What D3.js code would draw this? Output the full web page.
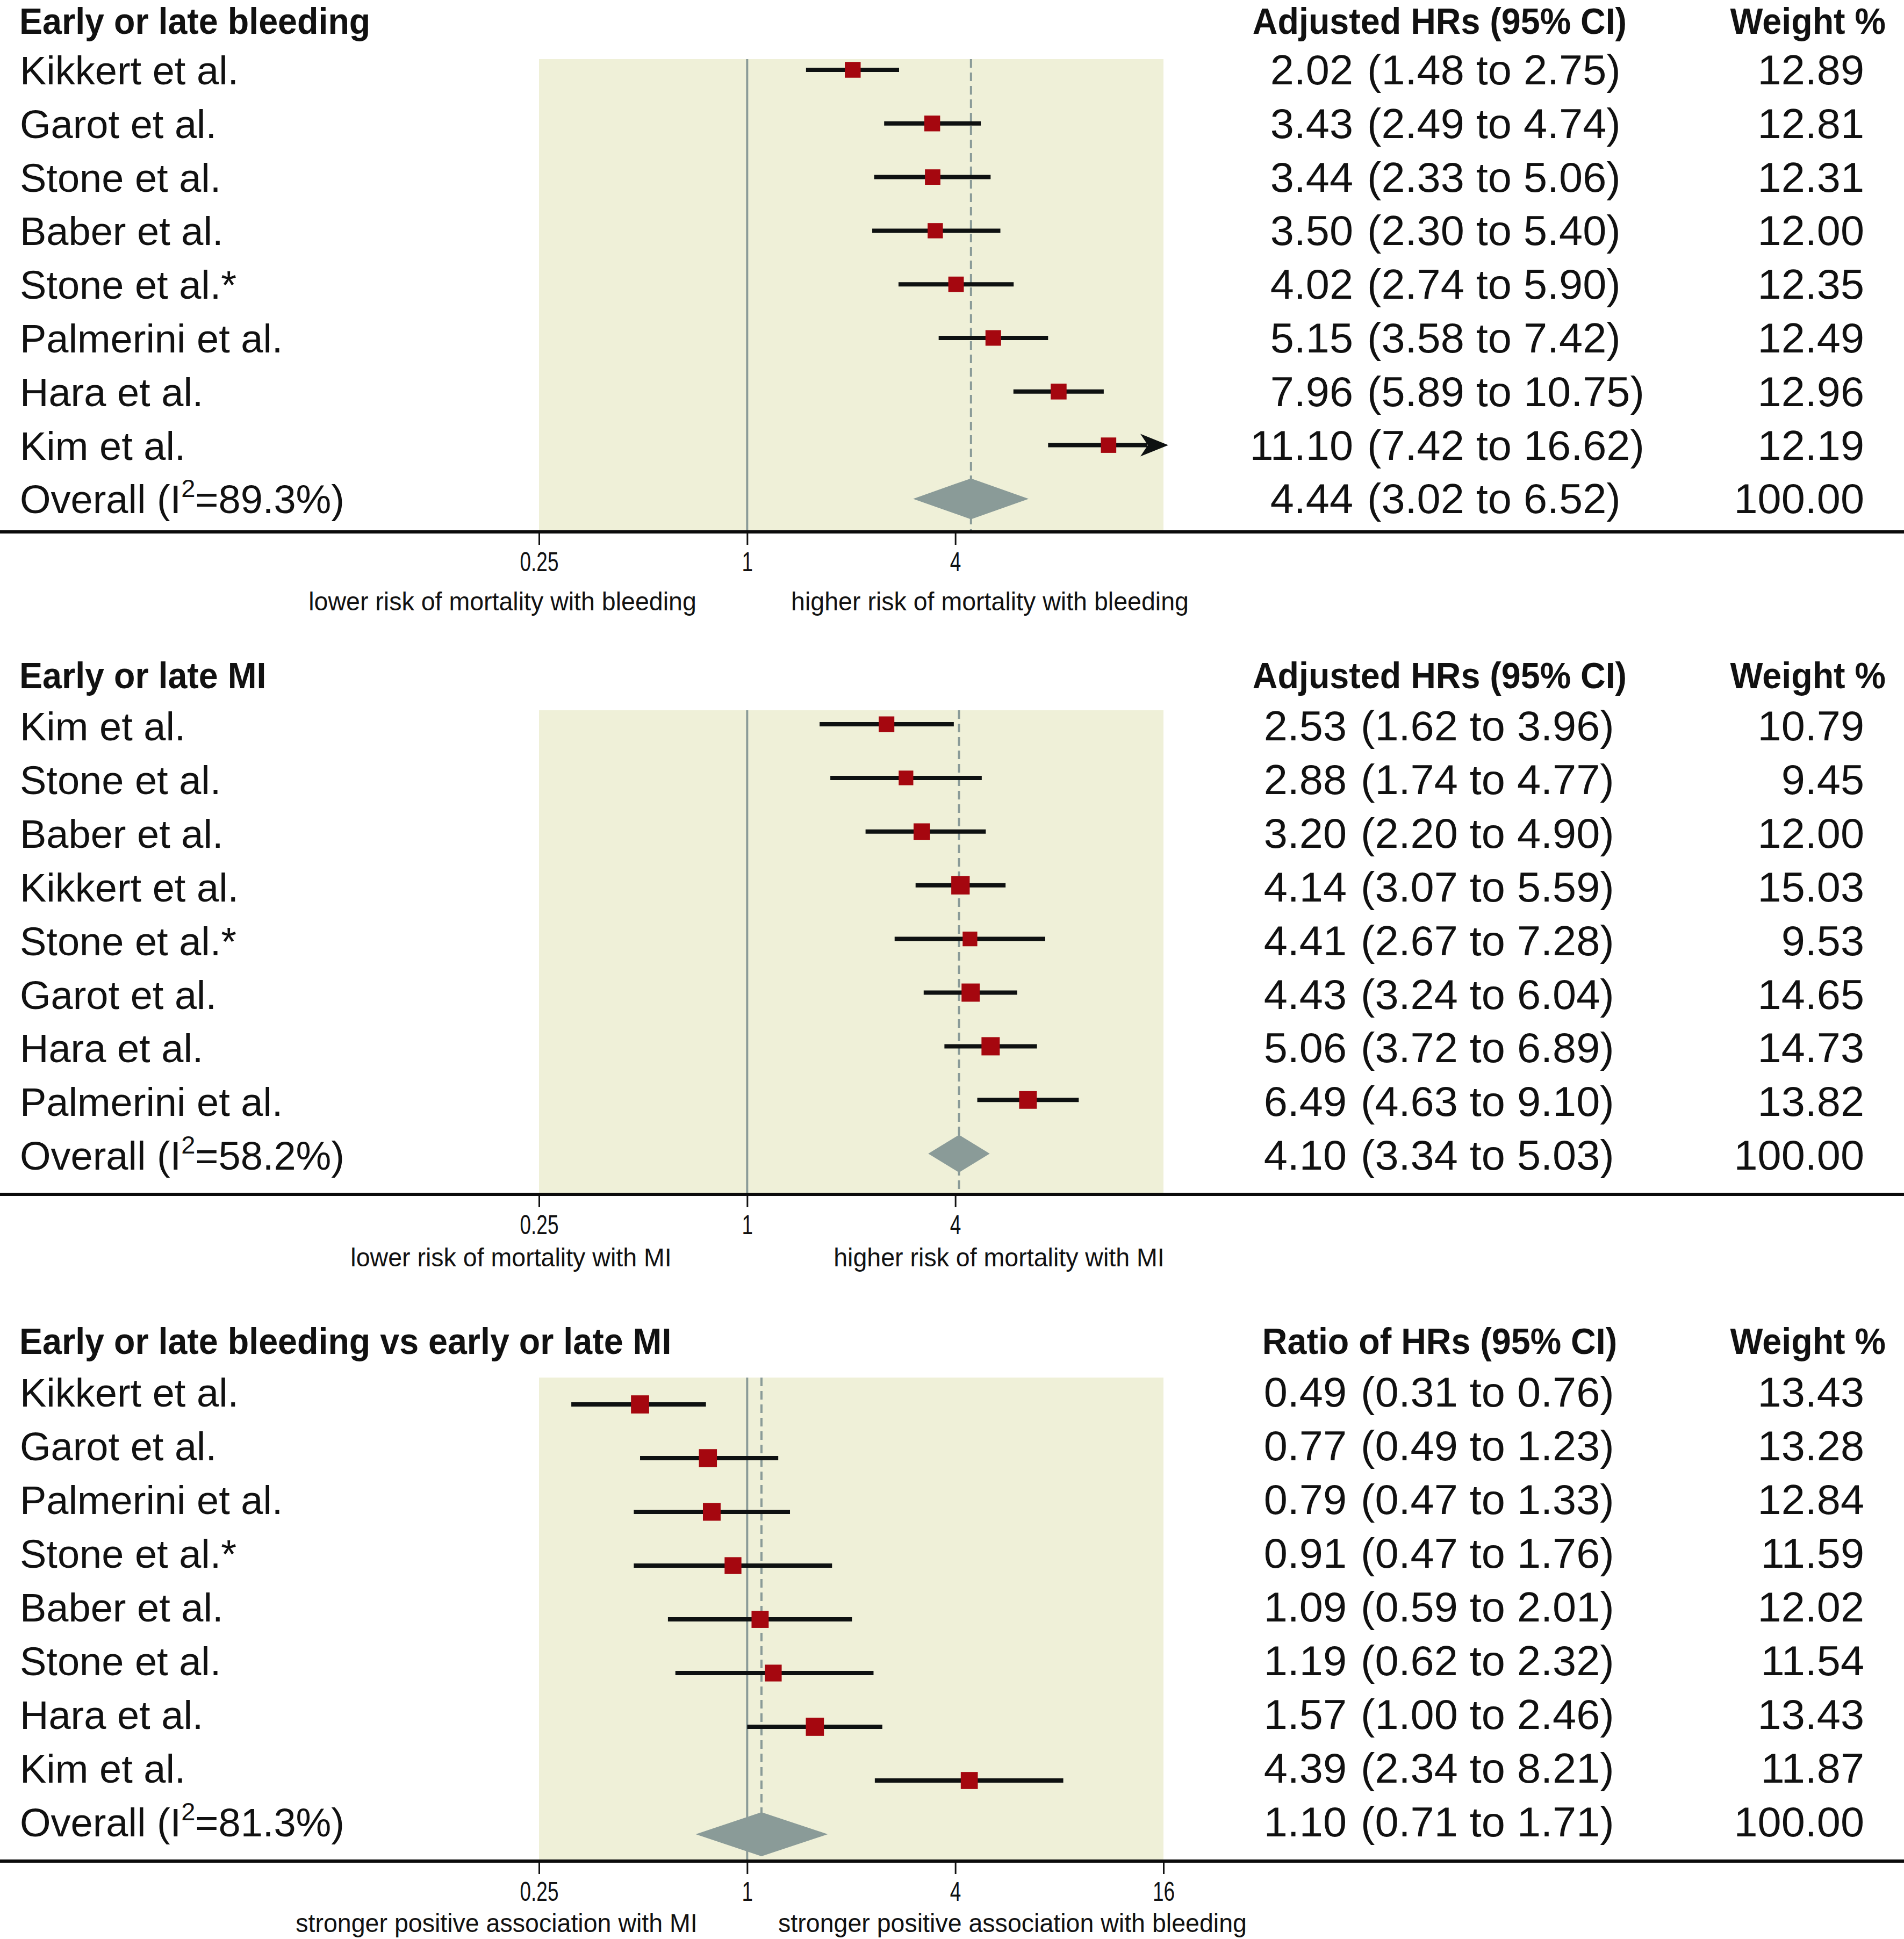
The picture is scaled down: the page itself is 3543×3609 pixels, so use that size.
<!DOCTYPE html>
<html>
<head>
<meta charset="utf-8">
<script src="https://cdn.jsdelivr.net/npm/d3@7"></script>
<style>
  html, body { margin: 0; padding: 0; background: #ffffff; }
  svg { display: block; }
  text { font-family: "Liberation Sans", Arial, Helvetica, sans-serif; fill: #111111; }
</style>
</head>
<body>
<script>
// ---------------- DATA ----------------
const titles = ["Early or late bleeding", "Early or late MI", "Early or late bleeding vs early or late MI"];
const estHeaders = ["Adjusted HRs (95% CI)", "Adjusted HRs (95% CI)", "Ratio of HRs (95% CI)"];
const weightHeader = "Weight %";

// Panel 1: Early or late bleeding
const studies1 = ["Kikkert et al.", "Garot et al.", "Stone et al.", "Baber et al.", "Stone et al.*", "Palmerini et al.", "Hara et al.", "Kim et al."];
const est1 = [2.02, 3.43, 3.44, 3.50, 4.02, 5.15, 7.96, 11.10];
const lo1  = [1.48, 2.49, 2.33, 2.30, 2.74, 3.58, 5.89, 7.42];
const hi1  = [2.75, 4.74, 5.06, 5.40, 5.90, 7.42, 10.75, 16.62];
const w1   = [12.89, 12.81, 12.31, 12.00, 12.35, 12.49, 12.96, 12.19];
const overall1 = [4.44, 3.02, 6.52]; // est, lo, hi
const i2_1 = "89.3%";

// Panel 2: Early or late MI
const studies2 = ["Kim et al.", "Stone et al.", "Baber et al.", "Kikkert et al.", "Stone et al.*", "Garot et al.", "Hara et al.", "Palmerini et al."];
const est2 = [2.53, 2.88, 3.20, 4.14, 4.41, 4.43, 5.06, 6.49];
const lo2  = [1.62, 1.74, 2.20, 3.07, 2.67, 3.24, 3.72, 4.63];
const hi2  = [3.96, 4.77, 4.90, 5.59, 7.28, 6.04, 6.89, 9.10];
const w2   = [10.79, 9.45, 12.00, 15.03, 9.53, 14.65, 14.73, 13.82];
const overall2 = [4.10, 3.34, 5.03];
const i2_2 = "58.2%";

// Panel 3: ratio of HRs
const studies3 = ["Kikkert et al.", "Garot et al.", "Palmerini et al.", "Stone et al.*", "Baber et al.", "Stone et al.", "Hara et al.", "Kim et al."];
const est3 = [0.49, 0.77, 0.79, 0.91, 1.09, 1.19, 1.57, 4.39];
const lo3  = [0.31, 0.49, 0.47, 0.47, 0.59, 0.62, 1.00, 2.34];
const hi3  = [0.76, 1.23, 1.33, 1.76, 2.01, 2.32, 2.46, 8.21];
const w3   = [13.43, 13.28, 12.84, 11.59, 12.02, 11.54, 13.43, 11.87];
const overall3 = [1.10, 0.71, 1.71];
const i2_3 = "81.3%";

const ticks12 = [0.25, 1, 4];
const ticks3 = [0.25, 1, 4, 16];
const sub1 = ["lower risk of mortality with bleeding", "higher risk of mortality with bleeding"];
const sub2 = ["lower risk of mortality with MI", "higher risk of mortality with MI"];
const sub3 = ["stronger positive association with MI", "stronger positive association with bleeding"];

// ---------------- LAYOUT / STYLE ----------------
const W = 3543, H = 3609;
const COL = {
  bg: "#eff0d8", marker: "#a5070f", diamond: "#8a9b98", ref: "#8a9b98",
  ci: "#0e1111", ink: "#111111"
};
const layout = [
  {titleY: 63,   row0: 157,  mark0: 130,  step: 99.8, bgTop: 110,  axisY: 990,  tickY: 73, subY: 1136, parenX: 2544, box: 8.2,  dH: 76, subX: [935, 1842]},
  {titleY: 1281, row0: 1378, mark0: 1348, step: 99.9, bgTop: 1322, axisY: 2223, tickY: 74, subY: 2357, parenX: 2532, box: 8.85, dH: 70, subX: [951, 1859]},
  {titleY: 2520, row0: 2618, mark0: 2614, step: 100,  bgTop: 2564, axisY: 3464, tickY: 74, subY: 3596, parenX: 2532, box: 9.2,  dH: 82, subX: [924, 1884]}
];

const panels = [
  {studies: studies1, est: est1, lo: lo1, hi: hi1, w: w1, overall: overall1, i2: i2_1, ticks: ticks12, sub: sub1},
  {studies: studies2, est: est2, lo: lo2, hi: hi2, w: w2, overall: overall2, i2: i2_2, ticks: ticks12, sub: sub2},
  {studies: studies3, est: est3, lo: lo3, hi: hi3, w: w3, overall: overall3, i2: i2_3, ticks: ticks3, sub: sub3}
];

const x = d3.scaleLog().base(2).domain([0.25, 16]).range([1003, 2165]);
const xMax = 16;
const f2 = d3.format(".2f");
const NUM_FS = 77, NUM_SX = 1.03;
const BOLD_FS = 68, BOLD_SX = 0.95;

const svg = d3.select("body").append("svg")
  .attr("width", W).attr("height", H)
  .attr("viewBox", `0 0 ${W} ${H}`);
svg.append("rect").attr("width", W).attr("height", H).attr("fill", "#ffffff");

panels.forEach((p, pi) => {
  const L = layout[pi];
  const g = svg.append("g");
  const n = p.studies.length;
  const yText = d3.scaleLinear().domain([0, n]).range([L.row0, L.row0 + n * L.step]);
  const yMark = d3.scaleLinear().domain([0, n]).range([L.mark0, L.mark0 + n * L.step]);

  // background band
  g.append("rect")
    .attr("x", x(0.25)).attr("y", L.bgTop)
    .attr("width", x(16) - x(0.25)).attr("height", L.axisY - L.bgTop)
    .attr("fill", COL.bg);

  // reference line at 1
  g.append("line")
    .attr("x1", x(1)).attr("x2", x(1))
    .attr("y1", L.bgTop).attr("y2", L.axisY)
    .attr("stroke", COL.ref).attr("stroke-width", 4);

  // dashed line at overall estimate
  g.append("line")
    .attr("x1", x(p.overall[0])).attr("x2", x(p.overall[0]))
    .attr("y1", L.bgTop).attr("y2", L.axisY)
    .attr("stroke", COL.ref).attr("stroke-width", 4)
    .attr("stroke-dasharray", "16,9");

  const rows = d3.range(n);

  // CI lines
  g.selectAll("line.ci").data(rows).join("line")
    .attr("class", "ci")
    .attr("x1", i => x(p.lo[i]))
    .attr("x2", i => p.hi[i] > xMax ? x(xMax) - 30 : x(p.hi[i]))
    .attr("y1", i => yMark(i)).attr("y2", i => yMark(i))
    .attr("stroke", COL.ci).attr("stroke-width", 8);

  // arrow heads for CIs beyond the axis range
  g.selectAll("path.arrow").data(rows.filter(i => p.hi[i] > xMax)).join("path")
    .attr("class", "arrow")
    .attr("d", i => {
      const tip = x(xMax) + 9, y = yMark(i);
      return `M${tip},${y} L${tip - 52},${y - 21} L${tip - 38},${y} L${tip - 52},${y + 21} Z`;
    })
    .attr("fill", COL.ci);

  // study boxes (side ~ sqrt(weight))
  const side = i => L.box * Math.sqrt(p.w[i]);
  g.selectAll("rect.box").data(rows).join("rect")
    .attr("class", "box")
    .attr("x", i => x(p.est[i]) - side(i) / 2)
    .attr("y", i => yMark(i) - side(i) / 2)
    .attr("width", side).attr("height", side)
    .attr("fill", COL.marker);

  // overall diamond
  const yd = yMark(n);
  const [oe, ol, oh] = p.overall;
  g.append("path")
    .attr("d", `M${x(ol)},${yd} L${x(oe)},${yd - L.dH / 2} L${x(oh)},${yd} L${x(oe)},${yd + L.dH / 2} Z`)
    .attr("fill", COL.diamond);

  // full-width axis line
  g.append("line")
    .attr("x1", 0).attr("x2", W)
    .attr("y1", L.axisY).attr("y2", L.axisY)
    .attr("stroke", "#0b0b0b").attr("stroke-width", 6);

  // axis ticks + labels
  const ax = g.append("g")
    .attr("transform", `translate(0,${L.axisY + 3})`)
    .call(d3.axisBottom(x).tickValues(p.ticks).tickSize(21).tickFormat(d => d3.format("~g")(d)));
  ax.select(".domain").remove();
  ax.selectAll(".tick line").attr("stroke", "#111").attr("stroke-width", 3);
  ax.selectAll(".tick text")
    .attr("y", L.tickY - 3).attr("dy", 0)
    .attr("transform", "scale(0.74,1)")
    .attr("font-size", 50)
    .attr("font-family", "'Liberation Sans', Arial, sans-serif")
    .attr("fill", COL.ink);

  // sub labels under the axis
  g.selectAll("text.sub").data(p.sub).join("text")
    .attr("class", "sub")
    .attr("transform", (d, i) => `translate(${L.subX[i]},${L.subY}) scale(0.95,1)`)
    .attr("text-anchor", "middle")
    .attr("font-size", 49)
    .text(d => d);

  // title and headers
  g.append("text")
    .attr("transform", `translate(36,${L.titleY}) scale(${BOLD_SX},1)`)
    .attr("font-size", BOLD_FS).attr("font-weight", "bold")
    .text(titles[pi]);
  g.append("text")
    .attr("transform", `translate(2679,${L.titleY}) scale(${BOLD_SX},1)`)
    .attr("text-anchor", "middle")
    .attr("font-size", BOLD_FS).attr("font-weight", "bold")
    .text(estHeaders[pi]);
  g.append("text")
    .attr("transform", `translate(3509,${L.titleY}) scale(${BOLD_SX},1)`)
    .attr("text-anchor", "end")
    .attr("font-size", BOLD_FS).attr("font-weight", "bold")
    .text(weightHeader);

  // study names
  g.selectAll("text.name").data(rows).join("text")
    .attr("class", "name")
    .attr("x", 37).attr("y", i => yText(i))
    .attr("font-size", 74)
    .text(i => p.studies[i]);

  // overall label with superscript
  const ot = g.append("text").attr("x", 37).attr("y", yText(n)).attr("font-size", 74);
  ot.append("tspan").text("Overall (I");
  ot.append("tspan").attr("dy", -30).attr("font-size", 47).text("2");
  ot.append("tspan").attr("dy", 30).text("=" + p.i2 + ")");

  // estimates: point (right aligned before paren) and CI (left aligned)
  const estAll = p.est.concat([oe]);
  const loAll = p.lo.concat([ol]);
  const hiAll = p.hi.concat([oh]);
  const wAll = p.w.concat([100]);
  const rowsAll = d3.range(n + 1);

  g.selectAll("text.pt").data(rowsAll).join("text")
    .attr("class", "pt")
    .attr("transform", i => `translate(${L.parenX - 26},${yText(i)}) scale(${NUM_SX},1)`)
    .attr("text-anchor", "end").attr("font-size", NUM_FS)
    .text(i => f2(estAll[i]));
  g.selectAll("text.cil").data(rowsAll).join("text")
    .attr("class", "cil")
    .attr("transform", i => `translate(${L.parenX},${yText(i)}) scale(${NUM_SX},1)`)
    .attr("font-size", NUM_FS)
    .text(i => `(${f2(loAll[i])} to ${f2(hiAll[i])})`);
  g.selectAll("text.wt").data(rowsAll).join("text")
    .attr("class", "wt")
    .attr("transform", i => `translate(3469,${yText(i)}) scale(${NUM_SX},1)`)
    .attr("text-anchor", "end").attr("font-size", NUM_FS)
    .text(i => f2(wAll[i]));
});
</script>
</body>
</html>
